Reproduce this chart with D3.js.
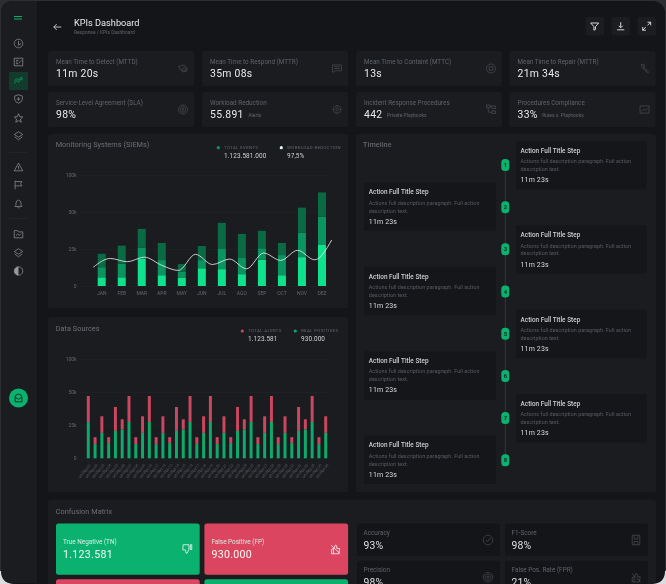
<!DOCTYPE html>
<html>
<head>
<meta charset="utf-8">
<title>KPIs Dashboard</title>
<script src="https://cdn.jsdelivr.net/npm/d3@7"></script>
<style>
  html, body { margin: 0; padding: 0; background: #26282c; overflow: hidden; }
  svg { display: block; font-family: Roboto, sans-serif; filter: blur(0.22px); }
  .tick line { stroke: #212327; stroke-width: 0.6; }
  .tick text { fill: #63666b; font-size: 5px; font-family: Roboto, sans-serif; }
  .domain { display: none; }
</style>
</head>
<body>
<svg id="chart" width="666" height="584"></svg>
<script>
"use strict";

var kpi_labels = [
  'Mean Time to Detect (MTTD)', 'Mean Time to Respond (MTTR)', 'Mean Time to Containt (MTTC)', 'Mean Time to Repair (MTTR)',
  'Service-Level Agreement (SLA)', 'Workload Reduction', 'Incident Response Procedures', 'Procedures Compliance'
];
var kpi_values = ['11m 20s', '35m 08s', '13s', '21m 34s', '98%', '55.891', '442', '33%'];
var kpi_units = ['', '', '', '', '', 'Alerts', 'Private Playbooks', 'Rules x. Playbooks'];
var kpi_icons = ['eye', 'chat', 'stop', 'wrench', 'target', 'gear', 'flow', 'image'];

var months = ['JAN', 'FEB', 'MAR', 'APR', 'MAY', 'JUN', 'JUL', 'AGO', 'SEP', 'OCT', 'NOV', 'DEZ'];
var events_low = [5.9, 5.9, 18.6, 7.3, 5.5, 12, 11.4, 8, 17.7, 7.3, 19.5, 27.7];
var events_mid = [6.8, 9.3, 7.3, 10.2, 4, 5.5, 13.6, 10.9, 7.8, 13.6, 16.4, 19.1];
var events_high = [9.1, 12.1, 12.7, 11.6, 5.3, 9.5, 17.7, 16.3, 11.8, 8.2, 20, 29.6];
var workload_line = [12.7, 18.6, 16.4, 19.5, 14.1, 10.5, 21.4, 14.5, 18.2, 11.6, 22.3, 17.3, 24.1, 17.7, 31.1];

var source_labels = [
  '00:01', '00:02', '00:03', '00:04', '00:05', '00:06', '00:07', '00:08', '00:09', '00:10', '00:11', '00:12',
  '00:13', '00:14', '00:15', '00:16', '00:17', '00:18', '00:19', '00:20', '00:21', '00:22', '00:23', '00:24',
  '00:25', '00:26', '00:27', '00:28', '00:29', '00:30', '00:31', '00:32', '00:33', '00:34', '00:35', '00:36'
];
var real_positives = [
  27.5, 10.75, 19.25, 11.5, 20.75, 21.75, 27.5, 10.75, 19.25, 27.5, 10.75, 19.25,
  11.5, 20.75, 21.75, 27.5, 10.75, 19.25, 27.5, 10.75, 19.25, 11.5, 20.75, 21.75,
  27.5, 10.75, 19.25, 27.5, 10.75, 19.25, 11.5, 20.75, 21.75, 27.5, 10.75, 19.25
];
var total_alerts = [
  47, 16, 31.75, 16, 38.75, 29.5, 47, 16, 31.75, 47, 16, 31.75,
  16, 38.75, 29.5, 47, 16, 31.75, 47, 16, 31.75, 16, 38.75, 29.5,
  47, 16, 31.75, 47, 16, 31.75, 16, 38.75, 29.5, 47, 16, 31.75
];

var y_ticks = [0, 25, 50, 100];
var y_tick_labels = ['0', '25k', '50k', '100k'];

var timeline_steps = ['1', '2', '3', '4', '5', '6', '7', '8'];

var matrix_labels = ['True Negative (TN)', 'False Positive (FP)'];
var matrix_values = ['1.123.581', '930.000'];
var metric_labels = ['Accuracy', 'F1-Score', 'Precision', 'False Pos. Rate (FPR)'];
var metric_values = ['93%', '98%', '98%', '21%'];
var metric_icons = ['check', 'save', 'target', 'nolike'];

var C_GREEN = '#0bb26f', C_RED = '#dc4560', C_BRIGHT = '#0fe28c', C_MID = '#0a9560', C_DARK = '#096a44';
var C_PANEL = '#1a1c20', C_MAIN = '#131519', C_MUTED = '#606368', C_TEXT = '#e8e9ea';

var icon_paths = {
  eye: 'M0 3 L6 1 Q9 3 10 6 L6 9 Q2 7 0 3 M6 4 a2 2 0 1 0 .1 0 M7.5 7 L9 9',
  chat: 'M0 1 H10 V7.5 H3 L1 9 H0 Z M2 3 H8 M2 5 H8',
  stop: 'M5 0 a5 5 0 1 0 .01 0 M3 3 H7 V7 H3 Z',
  wrench: 'M1 1 L4 0 L5 3 L3 4 Z M4 3.5 L9.5 9 L8.5 10 L3 4.5',
  target: 'M5 0 a5 5 0 1 0 .01 0 M5 2 a3 3 0 1 0 .01 0 M5 4 a1 1 0 1 0 .01 0',
  gear: 'M5 1 a4 4 0 1 0 .01 0 M5 3.5 a1.5 1.5 0 1 0 .01 0 M5 0 V1 M5 9 V10 M0 5 H1 M9 5 H10 M1.5 1.5 L2 2 M8 8 L8.5 8.5 M8.5 1.5 L8 2 M1.5 8.5 L2 8',
  flow: 'M0 0 H4 V3 H0 Z M6 1 H10 V4 H6 Z M6 6.5 H10 V9.5 H6 Z M4 1.5 H6 M2 3 V8 H6',
  image: 'M0 1 H10 V9 H0 Z M1.5 7 L4 4.5 L6 6 L8.5 3.5',
  check: 'M5 0 a5 5 0 1 0 .01 0 M3 5 L4.5 6.8 L7.5 3',
  save: 'M1 0 H9 V10 H1 Z M3 0 V4 H7 V0 M3 10 V6.5 H7 V10',
  nolike: 'M1 5 H3 V10 H1 Z M3 5 L5 1 Q6.5 1 6.5 3 V4.5 H9.5 L8.5 10 H3 M0.5 1 L10 10',
  dislike: 'M1 0.5 H7 V5.5 L5 9.5 Q3.5 9.5 3.5 7.5 V6 H0.5 Z M8.5 0.5 H10 V5.5 H8.5 Z',
  back: 'M10 5 H0 M4 1 L0 5 L4 9',
  filter: 'M0 1 H10 L6 5.5 V9 L4 10 V5.5 Z',
  download: 'M5 0 V6.5 M2.5 4.5 L5 7 L7.5 4.5 M0.5 9.5 H9.5',
  expand: 'M6 0 H10 V4 M10 0 L6 4 M0 6 V10 H4 M0 10 L4 6',
  pie: 'M5 0 a5 5 0 1 0 .01 0 M5 2 V7 L8 5',
  report: 'M0 0.5 H10 V9.5 H0 Z M2 3 H5 M2 5 H4 M2 7 H5 M6 6 L7 4.5 L8.5 3',
  trend: 'M0 8 L3 4.5 L5 6.5 L8 2.5 L10 4 M0 5 L3 2 L5 4 L8 0.5 L10 2',
  shield: 'M5 0 L9.5 1.5 V5.5 Q9 8.5 5 10 Q1 8.5 0.5 5.5 V1.5 Z M5 3 V7 M3 5 H7',
  star: 'M5 0 L6.5 3.5 L10 3.8 L7.3 6.2 L8.2 10 L5 8 L1.8 10 L2.7 6.2 L0 3.8 L3.5 3.5 Z',
  layers: 'M5 0 L10 3.2 L5 6.4 L0 3.2 Z M0.5 6 L5 9.5 L9.5 6',
  warning: 'M5 0.5 L10 9.5 H0 Z M5 4 V7 M5 8 V8.5',
  flag: 'M1 0 V10 M1 1 H9 L7.5 3.5 L9 6 H1',
  bell: 'M5 0.5 Q2 1 2 4.5 V6.5 L1 8 H9 L8 6.5 V4.5 Q8 1 5 0.5 M4 9.5 H6',
  folder: 'M0 1 H4 L5 2.5 H10 V9.5 H0 Z M2 7 L4 5 L6 6.5 L8 4.5',
  contrast: 'M5 0 a5 5 0 1 0 .01 0',
  bag: 'M1 4 Q1 0.5 5 0.5 Q9 0.5 9 4 V9.5 H1 Z M1 4 L5 6.5 L9 4'
};

var svg = d3.select('#chart');

function add_box(x, y, w, h, fill, radius) {
  return svg.append('rect')
    .attr('x', x).attr('y', y)
    .attr('width', w).attr('height', h)
    .attr('rx', radius).attr('fill', fill);
}

function add_text(x, y, str, size, fill, weight, spacing) {
  return svg.append('text')
    .attr('x', x).attr('y', y)
    .attr('dy', '0.35em')
    .attr('font-size', size)
    .attr('fill', fill)
    .attr('font-weight', weight || 400)
    .attr('letter-spacing', spacing || 0)
    .text(str);
}

function add_icon(name, cx, cy, size, color, stroke_width) {
  var k = size / 10;
  return svg.append('path')
    .attr('d', icon_paths[name])
    .attr('transform', 'translate(' + (cx - size / 2) + ',' + (cy - size / 2) + ') scale(' + k + ')')
    .attr('fill', 'none')
    .attr('stroke', color)
    .attr('stroke-width', (stroke_width || 0.6) / k)
    .attr('stroke-linejoin', 'round');
}

function draw_frame() {
  add_box(0, 0, 666, 584, '#2c2e32', 0);
  add_box(1, 1, 664, 590, C_MAIN, 12);
  svg.append('path')
    .attr('d', 'M37 1 H13 Q1 1 1 13 V571 Q1 583 13 583 H37 Z')
    .attr('fill', '#1a1c20');
}

function draw_sidebar() {
  add_box(14, 16, 8, 1, C_GREEN, 0);
  add_box(14, 18.5, 8, 1, C_GREEN, 0);
  add_box(9, 72, 19, 18, '#123a2d', 1);
  var side_icons = [['pie', 43.5], ['report', 62], ['trend', 81], ['shield', 99], ['star', 118], ['layers', 136],
    ['warning', 167], ['flag', 185], ['bell', 204], ['folder', 234], ['layers', 253], ['contrast', 271]];
  side_icons.forEach(function(item) {
    add_icon(item[0], 18.5, item[1], 8.5, item[0] === 'trend' ? C_GREEN : '#96989c', 0.7);
  });
  // left half of the contrast icon is filled
  svg.append('path').attr('d', 'M18.5 266.75 a4.25 4.25 0 0 0 0 8.5 z').attr('fill', '#96989c');
  [152, 218].forEach(function(y) {
    add_box(9, y, 19, 0.5, '#2a2c31', 0);
  });
  svg.append('circle').attr('cx', 18.5).attr('cy', 398).attr('r', 9.5).attr('fill', C_GREEN);
  add_icon('bag', 18.5, 398, 8.5, '#0f2b20', 0.9);
}

function draw_header() {
  add_icon('back', 57.5, 27, 7.5, '#e6e6e6', 0.8);
  add_text(74, 22.7, 'KPIs Dashboard', 9.2, C_TEXT, 400);
  add_text(74, 32.2, 'Response / KPIs Dashboard', 4.9, C_MUTED, 400);
  [['filter', 585.5], ['download', 611.5], ['expand', 637.5]].forEach(function(item) {
    add_box(item[1], 17, 18.5, 18.5, '#1b1d21', 2);
    add_icon(item[0], item[1] + 9.2, 26.2, 8, '#e6e6e6', 0.9);
  });
}

function draw_kpis() {
  var col_x = [48, 202, 356, 509.5];
  var row_y = [51, 92];
  kpi_labels.forEach(function(label, i) {
    var x = col_x[i % 4], y = row_y[Math.floor(i / 4)];
    add_box(x, y, 146, 35, C_PANEL, 2.5);
    add_text(x + 8, y + 10.5, label, 6.3, C_MUTED, 400, 0.02);
    var value = add_text(x + 8, y + 22.5, kpi_values[i], 10.4, C_TEXT, 400, 0.3);
    if (kpi_units[i]) {
      var w = value.node().getComputedTextLength();
      add_text(x + 8 + w + 4.5, y + 23, kpi_units[i], 5, C_MUTED, 400);
    }
    add_icon(kpi_icons[i], x + 135, y + 17.5, 9, '#55585d', 0.6);
  });
}

function draw_y_axis(y_scale) {
  var axis = d3.axisLeft(y_scale)
    .tickValues(y_ticks)
    .tickSize(-251.7)
    .tickPadding(3.4)
    .tickFormat(function(d, i) { return y_tick_labels[i]; });
  svg.append('g').attr('transform', 'translate(80,0)').call(axis);
}

function draw_legend(items, y) {
  items.forEach(function(item) {
    svg.append('circle').attr('cx', item.x).attr('cy', y).attr('r', 1.6).attr('fill', item.color);
    add_text(item.x + 5.8, y - 0.2, item.label, 4.4, '#63666b', 400, 0.32);
    add_text(item.x + 5.8, y + 8, item.value, 6.4, '#d0d1d2', 400, 0.1);
  });
}

function draw_events_chart() {
  add_box(48, 134, 300, 174, C_PANEL, 2.5);
  add_text(55.7, 144.7, 'Monitoring Systems (SIEMs)', 7.3, '#6c6f74', 400, 0.05);
  draw_legend([
    { x: 218.3, color: '#0a9560', label: 'TOTAL EVENTS', value: '1.123.581.000' },
    { x: 281.3, color: '#e8f5ee', label: 'WORKLOAD REDUCTION', value: '97,5%' }
  ], 147.7);

  var y = d3.scaleLinear().domain(y_ticks).range([286, 249, 212, 175]);
  var x = d3.scaleBand().domain(months).range([91.7, 332]).paddingInner(0.6).paddingOuter(0.3);
  draw_y_axis(y);

  var x_axis = d3.axisBottom(x).tickSize(0).tickPadding(5);
  svg.append('g').attr('transform', 'translate(0,286)').call(x_axis);

  var series = [[events_low, C_BRIGHT], [events_mid, C_MID], [events_high, C_DARK]];
  var base = months.map(function() { return 0; });
  series.forEach(function(s) {
    var starts = base.slice();
    svg.append('g').selectAll('rect').data(months).join('rect')
      .attr('x', function(d) { return x(d); })
      .attr('width', x.bandwidth())
      .attr('y', function(d, i) { return y(starts[i] + s[0][i]); })
      .attr('height', function(d, i) { return y(starts[i]) - y(starts[i] + s[0][i]); })
      .attr('fill', s[1]);
    base = base.map(function(b, i) { return b + s[0][i]; });
  });

  var line_x = d3.scalePoint().domain(d3.range(workload_line.length)).range([93.3, 331.7]);
  var line = d3.line()
    .x(function(d, i) { return line_x(i); })
    .y(function(d) { return y(d); })
    .curve(d3.curveMonotoneX);
  svg.append('path')
    .attr('d', line(workload_line))
    .attr('fill', 'none')
    .attr('stroke', '#f0f2f0')
    .attr('stroke-width', 0.8);
}

function draw_sources_chart() {
  add_box(48, 317, 300, 175, C_PANEL, 2.5);
  add_text(55.7, 328, 'Data Sources', 7.3, '#6c6f74', 400, 0.05);
  draw_legend([
    { x: 242.3, color: '#c9475f', label: 'TOTAL ALERTS', value: '1.123.581' },
    { x: 295.3, color: '#0eaa6b', label: 'REAL POSITIVES', value: '930.000' }
  ], 331);

  var y = d3.scaleLinear().domain(y_ticks).range([458.3, 425.3, 392, 359]);
  var x = d3.scaleBand().domain(source_labels).range([84.9, 329.1]).paddingInner(0.56).paddingOuter(0.28);
  draw_y_axis(y);

  svg.append('g').selectAll('rect').data(source_labels).join('rect')
    .attr('x', function(d) { return x(d); })
    .attr('width', x.bandwidth())
    .attr('y', function(d, i) { return y(total_alerts[i]); })
    .attr('height', function(d, i) { return y(real_positives[i]) - y(total_alerts[i]); })
    .attr('fill', '#c9475f');
  svg.append('g').selectAll('rect').data(source_labels).join('rect')
    .attr('x', function(d) { return x(d); })
    .attr('width', x.bandwidth())
    .attr('y', function(d, i) { return y(real_positives[i]); })
    .attr('height', function(d, i) { return y(0) - y(real_positives[i]); })
    .attr('fill', '#0eaa6b');

  var x_axis = d3.axisBottom(x).tickSize(0).tickPadding(0);
  var axis_g = svg.append('g').attr('transform', 'translate(0,458.3)').call(x_axis);
  axis_g.selectAll('.tick text')
    .style('font-size', '3.7px')
    .style('fill', '#595c61')
    .attr('text-anchor', 'end')
    .attr('y', 0)
    .attr('dy', '0.3em')
    .attr('transform', 'translate(2,6) rotate(-55)');
  // second line of every rotated label, the hour row
  axis_g.selectAll('.tick').append('text')
    .text('08:00')
    .style('font-size', '3.7px')
    .style('fill', '#595c61')
    .attr('text-anchor', 'end')
    .attr('dy', '0.3em')
    .attr('transform', 'translate(-3.5,12) rotate(-55)');
}

function draw_timeline() {
  add_box(356, 134, 300, 358, C_PANEL, 2.5);
  add_text(363, 144.5, 'Timeline', 7.2, '#63666b', 500, 0.1);

  var y = d3.scalePoint().domain(timeline_steps).range([165, 460.3]);
  var axis_x = 505.3;
  svg.append('line')
    .attr('x1', axis_x).attr('x2', axis_x)
    .attr('y1', y('1')).attr('y2', y('8'))
    .attr('stroke', '#3a3d42').attr('stroke-width', 0.8);

  timeline_steps.forEach(function(step, i) {
    var right = i % 2 === 0;
    var cy = y(step);
    var x = right ? 516 : 364;
    var w = right ? 130.7 : 132;
    var top = cy - (right ? 24 : 24.7);
    var tx = x + (right ? 4.5 : 4.8);
    add_box(x, top, w, 48.4, '#14161a', 1);
    add_text(tx, top + 9.6, 'Action Full Title Step', 6.4, '#cfd0d2', 500, 0.03);
    add_text(tx, top + 20.3, 'Actions full description paragraph. Full action', 5.4, '#595c61', 400, 0.05);
    add_text(tx, top + 28.2, 'description text.', 5.4, '#595c61', 400, 0.05);
    add_text(tx, top + 38.8, '11m 23s', 7, '#dadbdc', 400, 0.15);
    add_box(axis_x - 4, cy - 6, 8, 12, C_GREEN, 3.5);
    add_text(axis_x, cy, step, 5.8, '#0e2a1f', 700).attr('text-anchor', 'middle');
  });
}

function draw_confusion() {
  add_box(48, 499.5, 608, 90, C_PANEL, 2.5);
  add_text(55.7, 511, 'Confusion Matrix', 7.3, '#6c6f74', 400, 0.05);

  var cells = [[56, 523.5, C_GREEN, 'dislike'], [204.4, 523.5, C_RED, 'nolike']];
  cells.forEach(function(c, i) {
    add_box(c[0], c[1], 143.7, 51.2, c[2], 2.5);
    add_text(c[0] + 7, c[1] + 18.5, matrix_labels[i], 6.4, '#d5eee1', 400);
    add_text(c[0] + 7, c[1] + 30.5, matrix_values[i], 10.6, '#f3faf6', 400, 0.3);
    add_icon(c[3], c[0] + 131, c[1] + 25.5, 9.5, '#f3faf6', 0.8);
  });
  // lower row of the matrix, only its top edge is in the picture
  add_box(56, 579.3, 143.7, 51.2, C_RED, 2.5);
  add_box(204.4, 579.3, 143.7, 51.2, C_GREEN, 2.5);

  var metric_cells = [[357, 523.5], [505, 523.5], [357, 560.7], [505, 560.7]];
  metric_cells.forEach(function(c, i) {
    add_box(c[0], c[1], 143, 32.5, C_MAIN, 2.5);
    add_text(c[0] + 6.5, c[1] + 9.5, metric_labels[i], 6.4, C_MUTED, 400);
    add_text(c[0] + 6.5, c[1] + 21.5, metric_values[i], 10.4, '#dedfe0', 400, 0.1);
    add_icon(metric_icons[i], c[0] + 131, c[1] + 16.5, 9.5, '#55585d', 0.6);
  });
}

draw_frame();
draw_sidebar();
draw_header();
draw_kpis();
draw_events_chart();
draw_sources_chart();
draw_timeline();
draw_confusion();

// light corners of the window at the bottom of the photo
svg.append('path')
  .attr('d', 'M0 571 V584 H13 Q1 583 1 571 Z M666 571 V584 H653 Q665 583 665 571 Z')
  .attr('fill', '#dcdcdc');
</script>
</body>
</html>
